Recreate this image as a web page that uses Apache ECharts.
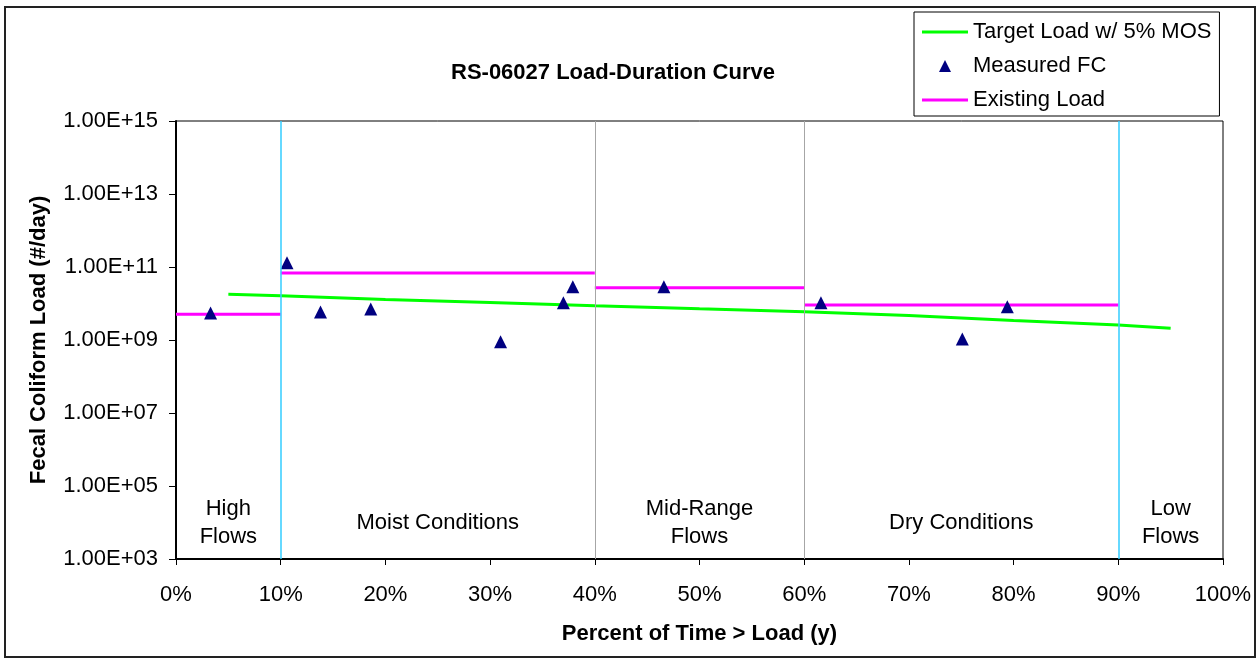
<!DOCTYPE html>
<html>
<head>
<meta charset="utf-8">
<title>RS-06027 Load-Duration Curve</title>
<script src="https://cdn.jsdelivr.net/npm/echarts@6/dist/echarts.min.js"></script>
<style>
  html, body { margin: 0; padding: 0; background: #fff; }
  #chart { width: 1260px; height: 662px; }
</style>
</head>
<body>
<div id="chart"></div>
<script>
// values (x = percent of time > load)
const targetPct = [5, 10, 20, 30, 40, 50, 60, 70, 80, 90, 95];
const targetLoad = [1.79e10, 1.64e10, 1.28e10, 1.06e10, 8.7e9, 7.2e9, 5.96e9, 4.69e9, 3.42e9, 2.58e9, 2.09e9];

const measuredPct = [3.3, 10.6, 13.8, 18.6, 31.0, 37.0, 37.9, 46.6, 61.6, 75.1, 79.4];
const measuredFC = [5.5e9, 1.31e11, 5.85e9, 7.06e9, 8.98e8, 1.05e10, 2.88e10, 2.88e10, 1.05e10, 1.06e9, 8.17e9];

const existingFrom = [0, 10, 40, 60];
const existingTo = [10, 40, 60, 90];
const existingLoad = [5.06e9, 6.85e10, 2.71e10, 9.1e9];

const zoneNames = ['High\nFlows', 'Moist Conditions', 'Mid-Range\nFlows', 'Dry Conditions', 'Low\nFlows'];
const zonePct = [5, 25, 50, 75, 95];
const zoneLoad = 1e4;

const cyanLines = [10, 90];
const greyLines = [40, 60];

const font = "'Liberation Sans', Arial, sans-serif";
const lineIcon = 'path://M0,0 L46,0 L46,3 L0,3 Z';
const triIcon = 'path://M6,0 L12,12 L0,12 Z';

let chart = echarts.init(document.getElementById('chart'));

// existing load is drawn as separate flat steps
let existingData = [];
existingFrom.forEach((x, i) => {
  existingData.push([x, existingLoad[i]], [existingTo[i], existingLoad[i]], [existingTo[i], '-']);
});

const expLabel = (v) => {
  let e = Math.round(Math.log10(v));
  return '1.00E+' + (e < 10 ? '0' : '') + e;
};

let option = {
  animation: false,
  backgroundColor: '#fff',
  textStyle: {fontFamily: font},
  title: {
    text: 'RS-06027 Load-Duration Curve',
    left: 451,
    top: 62,
    padding: 0,
    textStyle: {fontSize: 22, fontWeight: 'bold', color: '#000', fontFamily: font}
  },
  legend: {
    orient: 'vertical',
    left: 914,
    top: 12,
    data: [
      {name: 'Target Load w/ 5% MOS', icon: lineIcon},
      {name: 'Measured FC', icon: triIcon},
      {name: 'Existing Load', icon: lineIcon}
    ],
    itemWidth: 46,
    itemHeight: 12,
    itemGap: 12,
    symbolKeepAspect: true,
    padding: [9, 8, 5, 8],
    borderColor: '#000',
    borderWidth: 1,
    backgroundColor: '#fff',
    textStyle: {fontSize: 22, color: '#000', fontFamily: font}
  },
  grid: {
    left: 176,
    top: 121,
    width: 1047,
    height: 438,
    show: true,
    borderColor: '#000',
    borderWidth: 1
  },
  xAxis: {
    type: 'value',
    min: 0,
    max: 100,
    interval: 10,
    name: 'Percent of Time > Load (y)',
    nameLocation: 'middle',
    nameGap: 64,
    nameTextStyle: {fontSize: 22, fontWeight: 'bold', color: '#000', fontFamily: font},
    axisLine: {onZero: false, lineStyle: {color: '#000', width: 2}},
    axisTick: {show: true, length: 6, lineStyle: {color: '#000'}},
    axisLabel: {formatter: '{value}%', fontSize: 22, color: '#000', margin: 25, fontFamily: font},
    splitLine: {show: false}
  },
  yAxis: {
    type: 'log',
    logBase: 10,
    min: 1e3,
    max: 1e15,
    interval: 2,
    name: 'Fecal Coliform Load (#/day)',
    nameLocation: 'middle',
    nameGap: 126,
    nameTextStyle: {fontSize: 22, fontWeight: 'bold', color: '#000', fontFamily: font},
    axisLine: {show: true, onZero: false, lineStyle: {color: '#000', width: 2}},
    axisTick: {show: true, length: 7, lineStyle: {color: '#000'}},
    axisLabel: {formatter: expLabel, fontSize: 22, color: '#000', margin: 18, fontFamily: font},
    splitLine: {show: false},
    minorTick: {show: false}
  },
  graphic: [{
    type: 'rect',
    shape: {x: 5, y: 7, width: 1250, height: 650},
    style: {fill: null, stroke: '#222', lineWidth: 2},
    silent: true
  }],
  series: [
    {
      name: 'zones',
      type: 'scatter',
      symbolSize: 0,
      silent: true,
      z: 1,
      itemStyle: {opacity: 1},
      data: zonePct.map((x, i) => ({value: [x, zoneLoad], name: zoneNames[i]})),
      label: {
        show: true,
        position: 'inside',
        formatter: (p) => p.name,
        fontSize: 22,
        lineHeight: 28,
        color: '#000',
        fontFamily: font
      },
      markLine: {
        symbol: 'none',
        silent: true,
        label: {show: false},
        data: cyanLines.map(x => ({xAxis: x, lineStyle: {color: '#33ccff', width: 1.5, type: 'solid'}}))
          .concat(greyLines.map(x => ({xAxis: x, lineStyle: {color: '#a6a6a6', width: 1, type: 'solid'}})))
      }
    },
    {
      name: 'Target Load w/ 5% MOS',
      type: 'line',
      symbol: 'none',
      z: 3,
      lineStyle: {color: '#00ff00', width: 3},
      itemStyle: {color: '#00ff00'},
      data: targetPct.map((x, i) => [x, targetLoad[i]])
    },
    {
      name: 'Existing Load',
      type: 'line',
      symbol: 'none',
      connectNulls: false,
      z: 3,
      lineStyle: {color: '#ff00ff', width: 3},
      itemStyle: {color: '#ff00ff'},
      data: existingData
    },
    {
      name: 'Measured FC',
      type: 'scatter',
      symbol: 'triangle',
      symbolSize: 13,
      z: 4,
      itemStyle: {color: '#000080', opacity: 1},
      data: measuredPct.map((x, i) => [x, measuredFC[i]])
    }
  ]
};

chart.setOption(option);
</script>
</body>
</html>
